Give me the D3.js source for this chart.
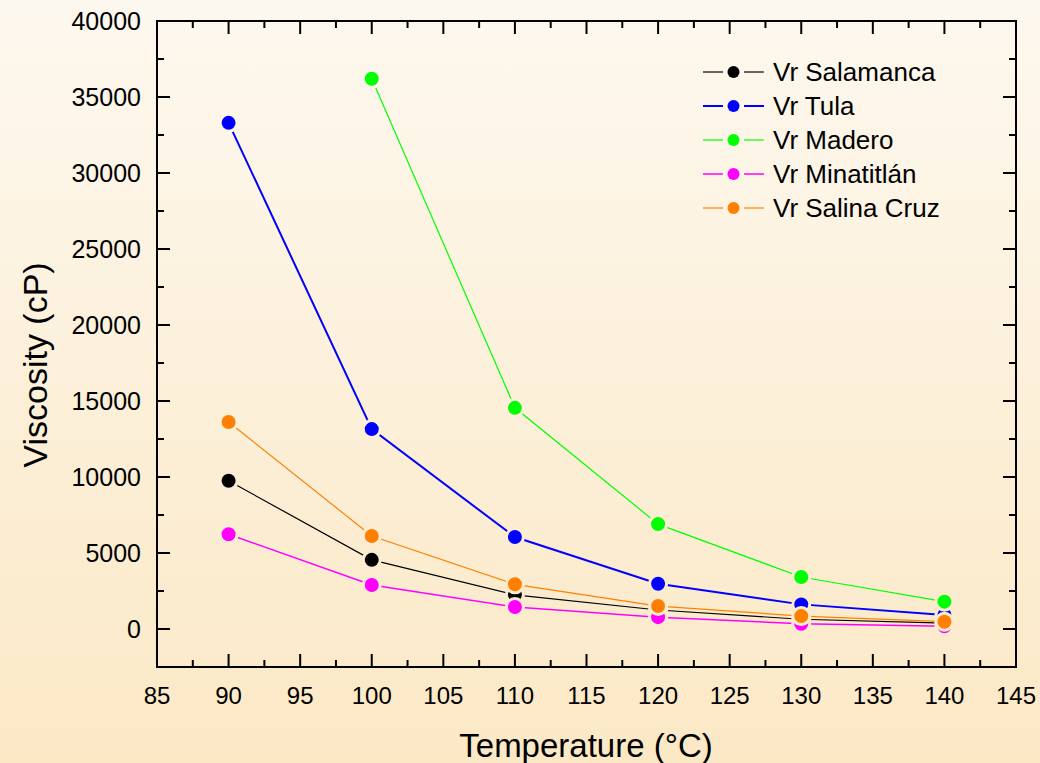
<!DOCTYPE html>
<html>
<head>
<meta charset="utf-8">
<script src="https://cdn.jsdelivr.net/npm/d3@7"></script>
<style>
  html, body { margin: 0; padding: 0; }
  svg { display: block; font-family: 'Liberation Sans', Arial, sans-serif; }
</style>
</head>
<body>
<svg width="1040" height="763"></svg>
<script>
const width = 1040
const height = 763
const margin = { top: 21, right: 24, bottom: 96, left: 157 }

const temps = [90, 100, 110, 120, 130, 140]
const seriesNames = ['Vr Salamanca', 'Vr Tula', 'Vr Madero', 'Vr Minatitlán', 'Vr Salina Cruz']
const colors = ['#000000', '#0000ff', '#00ff00', '#ff00ff', '#ff8000']
const lineWidths = [1.2, 2, 1.2, 1.5, 1.2]

const salamanca = [9750, 4550, 2250, 1250, 640, 390]
const tula = [33300, 13150, 6050, 2980, 1620, 920]
const madero = [null, 36200, 14550, 6900, 3420, 1800]
const minatitlan = [6230, 2890, 1450, 780, 340, 180]
const salinaCruz = [13620, 6120, 2940, 1510, 850, 480]

const xTicks = [85, 90, 95, 100, 105, 110, 115, 120, 125, 130, 135, 140, 145]
const yTicks = [0, 5000, 10000, 15000, 20000, 25000, 30000, 35000, 40000]

const allSeries = [salamanca, tula, madero, minatitlan, salinaCruz]

const svg = d3.select('svg')

// background gradient
const defs = svg.append('defs')
const grad = defs.append('linearGradient')
  .attr('id', 'bg')
  .attr('gradientUnits', 'userSpaceOnUse')
  .attr('x1', 0).attr('y1', 0).attr('x2', 0).attr('y2', height)
grad.append('stop').attr('offset', 0).attr('stop-color', '#fdf8ef')
grad.append('stop').attr('offset', 1).attr('stop-color', '#fbe8c5')

svg.append('rect')
  .attr('width', width)
  .attr('height', height)
  .attr('fill', 'url(#bg)')

const xScale = d3.scaleLinear()
  .domain([85, 145])
  .range([margin.left, width - margin.right])

const yScale = d3.scaleLinear()
  .domain([-2500, 40000])
  .range([height - margin.bottom, margin.top])

const x0 = margin.left
const x1 = width - margin.right
const y0 = height - margin.bottom
const y1 = margin.top

// frame
svg.append('rect')
  .attr('x', x0).attr('y', y1)
  .attr('width', x1 - x0).attr('height', y0 - y1)
  .attr('fill', 'none')
  .attr('stroke', '#000')
  .attr('stroke-width', 2)

// ticks on all four sides, pointing inward
const xMinor = d3.range(87.5, 145, 5)
const yMinor = d3.range(-2500, 40000, 5000)
const tickG = svg.append('g').attr('stroke', '#000').attr('stroke-width', 2)

function xTickLines (vals, len) {
  vals.forEach(v => {
    tickG.append('line').attr('x1', xScale(v)).attr('x2', xScale(v)).attr('y1', y0).attr('y2', y0 - len)
    tickG.append('line').attr('x1', xScale(v)).attr('x2', xScale(v)).attr('y1', y1).attr('y2', y1 + len)
  })
}
function yTickLines (vals, len) {
  vals.forEach(v => {
    tickG.append('line').attr('y1', yScale(v)).attr('y2', yScale(v)).attr('x1', x0).attr('x2', x0 + len)
    tickG.append('line').attr('y1', yScale(v)).attr('y2', yScale(v)).attr('x1', x1).attr('x2', x1 - len)
  })
}
xTickLines(xTicks, 13)
xTickLines(xMinor, 7)
yTickLines(yTicks, 13)
yTickLines(yMinor, 7)

// tick labels
svg.append('g').selectAll('text')
  .data(xTicks)
  .enter().append('text')
  .attr('x', d => xScale(d))
  .attr('y', 704)
  .attr('text-anchor', 'middle')
  .attr('font-size', 24)
  .text(d => d)

svg.append('g').selectAll('text')
  .data(yTicks)
  .enter().append('text')
  .attr('x', 141)
  .attr('y', d => yScale(d) + 9)
  .attr('text-anchor', 'end')
  .attr('font-size', 25)
  .text(d => d)

// axis titles
svg.append('text')
  .attr('x', 586)
  .attr('y', 757)
  .attr('text-anchor', 'middle')
  .attr('font-size', 33)
  .text('Temperature (°C)')

svg.append('text')
  .attr('transform', `translate(47, ${(y0 + y1) / 2 + 21}) rotate(-90)`)
  .attr('text-anchor', 'middle')
  .attr('font-size', 34)
  .text('Viscosity (cP)')

// series
const line = d3.line()
  .defined(d => d[1] != null)
  .x(d => xScale(d[0]))
  .y(d => yScale(d[1]))

const r = 7.5

allSeries.forEach((vals, i) => {
  const pts = temps.map((t, j) => [t, vals[j]])
  const g = svg.append('g')
  g.append('path')
    .attr('d', line(pts))
    .attr('fill', 'none')
    .attr('stroke', colors[i])
    .attr('stroke-width', lineWidths[i])
  g.selectAll('circle')
    .data(pts.filter(d => d[1] != null))
    .enter().append('circle')
    .attr('cx', d => xScale(d[0]))
    .attr('cy', d => yScale(d[1]))
    .attr('r', r + 1)
    .attr('fill', colors[i])
    .attr('stroke', 'url(#bg)')
    .attr('stroke-width', 3)
})

// legend
const legend = svg.append('g')
seriesNames.forEach((name, i) => {
  const y = 72 + i * 34
  legend.append('line')
    .attr('x1', 703).attr('x2', 723).attr('y1', y).attr('y2', y)
    .attr('stroke', colors[i]).attr('stroke-width', lineWidths[i])
  legend.append('line')
    .attr('x1', 744).attr('x2', 764).attr('y1', y).attr('y2', y)
    .attr('stroke', colors[i]).attr('stroke-width', lineWidths[i])
  legend.append('circle')
    .attr('cx', 733.5).attr('cy', y).attr('r', 6)
    .attr('fill', colors[i])
  legend.append('text')
    .attr('x', 773).attr('y', y + 9)
    .attr('font-size', 26)
    .text(name)
})
</script>
</body>
</html>
